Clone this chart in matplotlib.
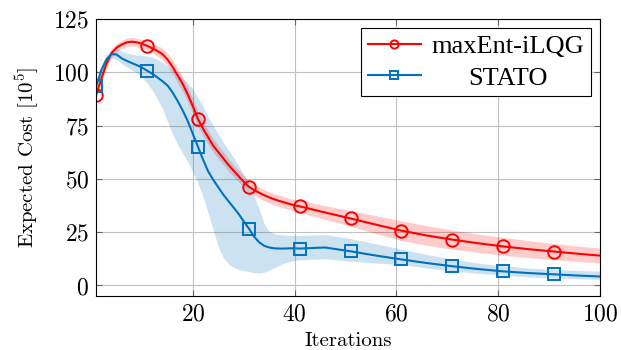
import numpy as np
import matplotlib
matplotlib.use('Agg')
import matplotlib.pyplot as plt

plt.rcParams['font.family'] = 'cmr10'
plt.rcParams['mathtext.fontset'] = 'cm'
plt.rcParams['axes.formatter.use_mathtext'] = True

iters = list(range(1, 41)) + [41, 46, 51, 56, 61, 66, 71, 76, 81, 86, 91, 96, 100]

# maxEnt-iLQG mean and band half-width
ilqg_mean = [89.5, 97, 104, 109, 111.5, 113, 114, 114.3, 114, 113.3,
             112.4, 111.2, 110, 108.5, 106, 102.5, 98.5, 94.5, 89.5, 84,
             78, 73.5, 69.5, 65.5, 62.5, 59.5, 56.5, 53.8, 51.2, 48.6,
             46.3, 44.8, 43.5, 42.3, 41.3, 40.4, 39.6, 38.9, 38.2, 37.6,
             37.1, 34.2, 31.4, 28.5, 25.7, 23.4, 21.5, 19.8, 18.3, 17.0, 15.9, 14.8, 14.0]
ilqg_sd = [1, 1.5, 2, 2, 2, 2, 2, 2, 2, 2,
           2, 2.2, 2.5, 2.8, 3, 3.2, 3.4, 3.5, 3.5, 3.5,
           3.5, 3.4, 3.3, 3.2, 3.1, 3, 2.9, 2.8, 2.7, 2.7,
           2.6, 2.6, 2.6, 2.6, 2.6, 2.7, 2.7, 2.7, 2.7, 2.7,
           2.8, 3.2, 3.7, 4.2, 4.6, 4.6, 4.5, 4.3, 4.2, 4.0, 3.8, 3.6, 3.5]

# STATO mean, lower and upper band
stato_mean = [93.6, 101, 106, 108.5, 108.3, 106.5, 105.3, 104.3, 103.3, 102.2,
              100.7, 99.3, 97.6, 95.8, 93.8, 90.5, 86.5, 82, 77, 71,
              65, 59, 53.5, 49.5, 46, 42.5, 39.5, 36.5, 33.5, 30,
              26.7, 23, 20.3, 18.6, 17.8, 17.4, 17.3, 17.3, 17.4, 17.4,
              17.3, 17.8, 16.0, 14.0, 12.2, 10.5, 9.0, 7.7, 6.6, 5.8, 5.2, 4.6, 4.2]
stato_lo = [92, 99, 104, 106.5, 106, 104, 102.5, 101, 99.5, 97.5,
            95, 91.5, 87.5, 83, 77, 71, 66, 62, 58, 53,
            48, 41.5, 34, 26, 18, 13, 10, 8.5, 7.5, 7,
            6.5, 6, 5.8, 6.2, 7.2, 8.3, 9.5, 10.5, 11.2, 11.7,
            12, 12.5, 11.4, 10.5, 9.8, 8.2, 6.7, 5.7, 4.8, 4.0, 3.5, 3.1, 2.8]
stato_hi = [95.5, 103, 108, 110.5, 111, 110, 109, 108.5, 108, 108,
            107.5, 107, 106, 104.5, 103, 101, 99, 97, 95, 92,
            88, 84, 79, 75, 71, 67, 63.5, 60, 56, 52,
            48, 42, 36, 29, 25.5, 24.2, 23.8, 23.6, 23.5, 23.5,
            23.5, 23.8, 22, 19.5, 17, 14.5, 12.3, 10.5, 9.2, 8.2, 7.5, 7, 6.7]

red = '#ff0000'
blue = '#0072bd'

x = np.array(iters)
m1 = np.array(ilqg_mean)
s1 = np.array(ilqg_sd)
marks = [i for i, v in enumerate(iters) if v % 10 == 1]

fig = plt.figure(figsize=(6.21, 3.5), dpi=100)
ax = fig.add_axes([0.155, 0.154, 0.811, 0.792])

ax.fill_between(x, m1 - s1, m1 + s1, color=red, alpha=0.2, lw=0)
ax.fill_between(x, stato_lo, stato_hi, color=blue, alpha=0.2, lw=0)
ax.plot(x, m1, color=red, lw=1.5, marker='o', mfc='none', ms=9, mew=1.4,
        markevery=marks, label='maxEnt-iLQG')
ax.plot(x, stato_mean, color=blue, lw=1.5, marker='s', mfc='none', ms=9, mew=1.4,
        markevery=marks, label='STATO')

ax.set_xlim(1, 100)
ax.set_ylim(-5, 125)
ax.set_xticks([20, 40, 60, 80, 100])
ax.set_yticks([0, 25, 50, 75, 100, 125])
ax.grid(True, color='#c0c0c0', lw=0.8)
ax.set_axisbelow(True)
ax.tick_params(direction='in', length=4, width=0.8, color='#666666',
               top=True, right=True, labelsize=17, pad=5)
for sp in ax.spines.values():
    sp.set_linewidth(0.8)
    sp.set_color('black')

ax.set_xlabel('Iterations', fontsize=15, labelpad=5)
ax.set_ylabel(r'Expected Cost $[10^5]$', fontsize=15, labelpad=8)

leg = ax.legend(loc='upper right', prop={'family': 'Liberation Serif', 'size': 19},
                frameon=True, fancybox=False, framealpha=1, edgecolor='black',
                handlelength=2.0, markerscale=0.65, borderaxespad=0.35,
                labelspacing=0.3, handletextpad=0.4, borderpad=0.25)
leg.get_frame().set_linewidth(0.8)

# center labels inside the legend column
fig.canvas.draw()
r = fig.canvas.get_renderer()
widths = [t.get_window_extent(r).width for t in leg.get_texts()]
wmax = max(widths)
for t, w in zip(leg.get_texts(), widths):
    t.set_position(((wmax - w) / 2, 0))

fig.savefig('out.png', dpi=100)
